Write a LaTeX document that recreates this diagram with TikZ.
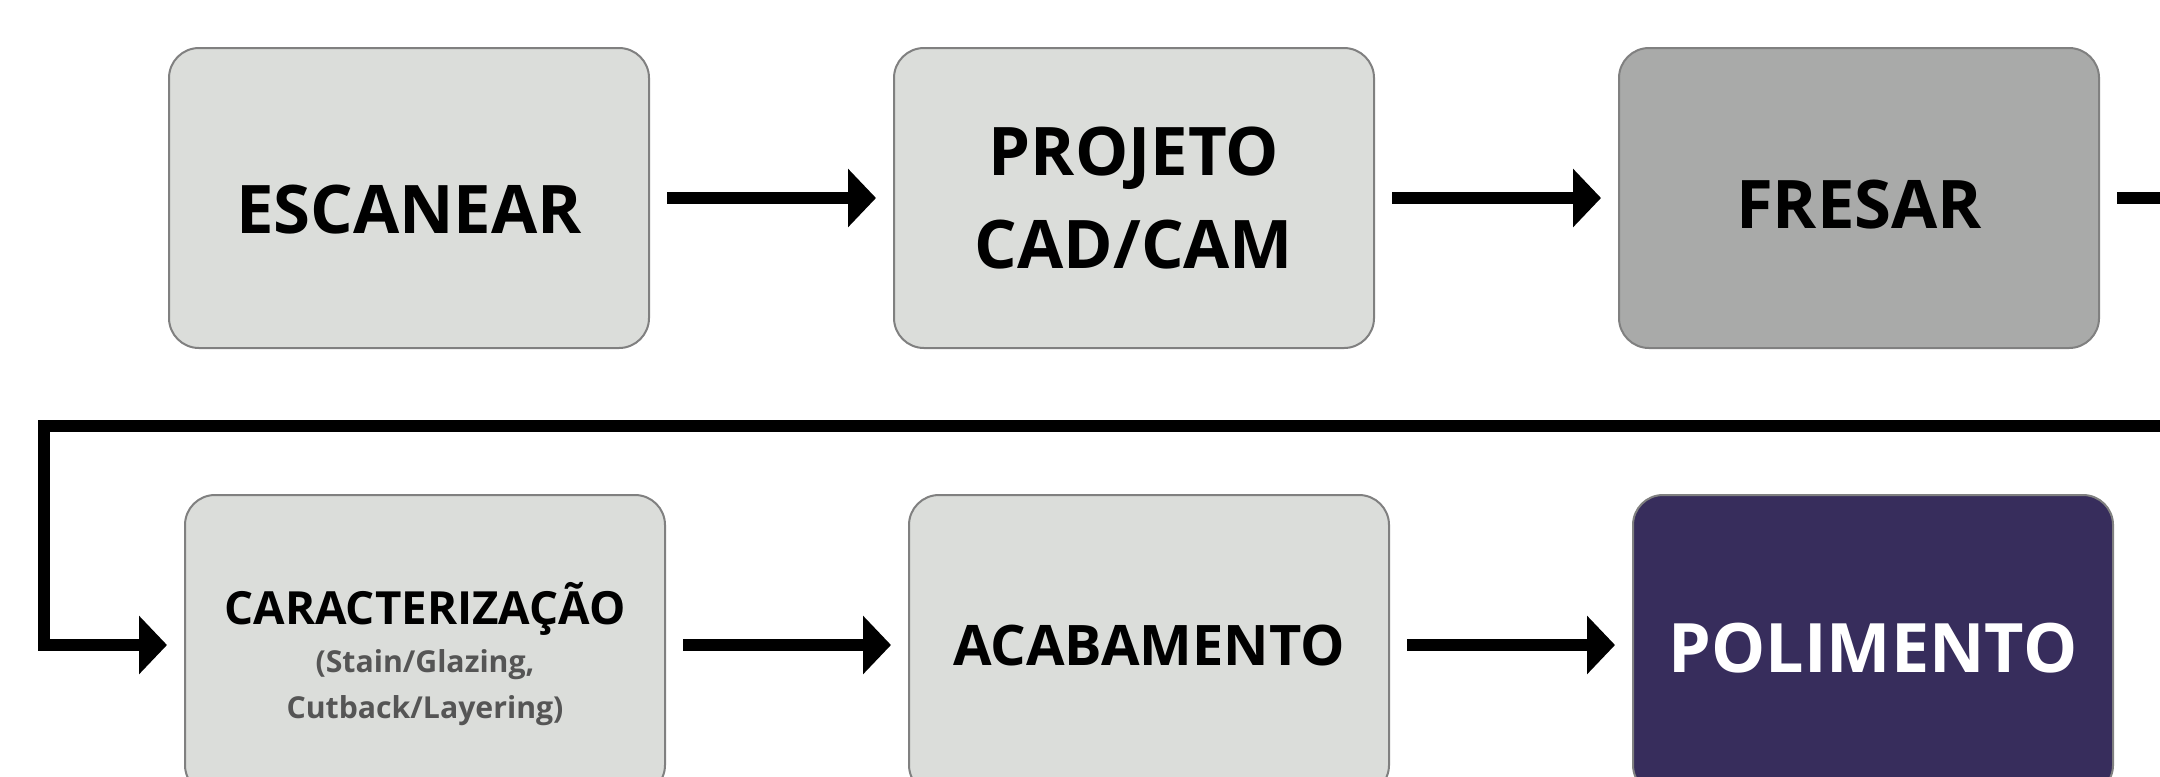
\documentclass[tikz,border=0pt]{standalone}
\usepackage{fontspec}
\setmainfont{Open Sans}
\usetikzlibrary{arrows.meta,positioning}
\definecolor{boxgray}{HTML}{DBDDDA}
\definecolor{millgray}{HTML}{A9AAA9}
\definecolor{polishpurple}{HTML}{372D5C}
\definecolor{boxedge}{HTML}{808080}
\definecolor{subgray}{HTML}{555555}
\tikzset{>={Triangle[length=0.28cm,width=0.57cm]}}
\tikzstyle{stepbox} = [draw=boxedge, line width=0.02cm, fill=boxgray,
    rounded corners=0.3cm, minimum width=4.8cm, minimum height=3cm,
    inner sep=0pt, outer sep=0pt, align=center,
    font=\bfseries\fontsize{19.07pt}{26.2pt}\selectfont]
\tikzstyle{flow} = [line width=0.12cm, shorten <=0.18cm, shorten >=0.18cm]
\newcommand{\subtxt}[1]{{\color{subgray}\fontsize{8.6pt}{11.4pt}\selectfont #1}}

\begin{document}
\begin{tikzpicture}
    \clip (0,0) rectangle (21.6,-7.76);
    \node [stepbox, text height=0.72cm] (scan) at (4.09,-1.98) {ESCANEAR};
    \node [stepbox, right=2.45cm of scan] (cad) {PROJETO\\CAD/CAM};
    \node [stepbox, fill=millgray, text height=0.62cm, right=2.45cm of cad] (mill) {FRESAR};
    \node [stepbox, below=1.47cm of scan, xshift=0.16cm,
        font=\bfseries\fontsize{13pt}{15pt}\selectfont] (charac)
        {\rule{0pt}{0.6cm}CARACTERIZAÇÃO\\[-1.4pt]\subtxt{(Stain/Glazing,}\\[-1.9pt]\subtxt{Cutback/Layering)}};
    \node [stepbox, right=2.44cm of charac,
        font=\bfseries\fontsize{15.9pt}{20pt}\selectfont] (finish) {ACABAMENTO};
    \node [stepbox, fill=polishpurple, text=white, text height=0.56cm,
        right=2.44cm of finish,
        font=\bfseries\fontsize{19.4pt}{24pt}\selectfont] (polish) {POLIMENTO};
    \coordinate (back) at (0.44,-4.26);
    \draw [flow,->] (scan)--(cad);
    \draw [flow,->] (cad)--(mill);
    \draw [flow,->] (mill.east) -- ++(0.9,0) |- (back) |- (charac.west);
    \draw [flow,->] (charac)--(finish);
    \draw [flow,->] (finish)--(polish);
\end{tikzpicture}
\end{document}
